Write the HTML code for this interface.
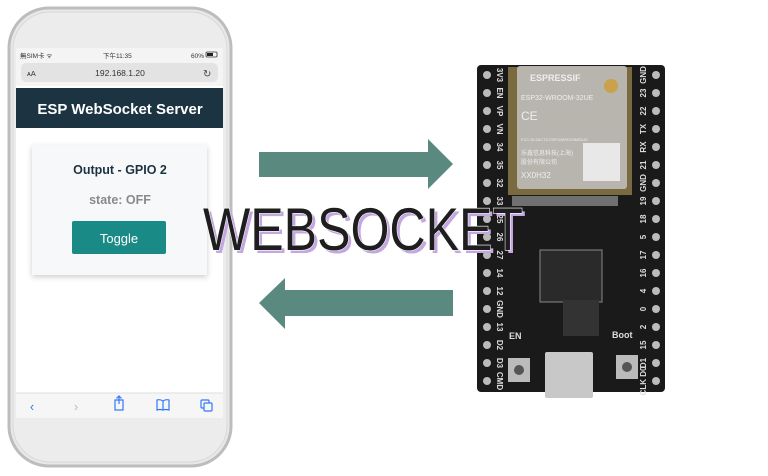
<!DOCTYPE html>
<html><head><meta charset="utf-8"><style>
html,body{margin:0;padding:0;background:#fff;width:768px;height:476px;overflow:hidden}
svg{display:block}
</style></head><body>
<svg width="768" height="476" viewBox="0 0 768 476" xmlns="http://www.w3.org/2000/svg" font-family="Liberation Sans, Noto Sans CJK SC, sans-serif">
<defs>
<filter id="sh" x="-20%" y="-20%" width="140%" height="140%"><feDropShadow dx="0" dy="2" stdDeviation="3" flood-color="#000" flood-opacity="0.2"/></filter>
</defs>
<!-- phone -->
<rect x="9" y="8" width="222" height="458" rx="40" fill="#e8e8e8" stroke="#bdbdbd" stroke-width="3"/>
<rect x="13" y="12" width="214" height="450" rx="37" fill="#ececec" stroke="#d8d8d8" stroke-width="1"/>
<rect x="16" y="48" width="207" height="370" fill="#fff"/>
<rect x="16" y="48" width="207" height="14" fill="#f4f4f4"/>
<text x="20" y="58" font-size="6.5" fill="#333">無SIM卡 ᯤ</text>
<text x="103" y="58" font-size="6.5" fill="#333">下午11:35</text>
<text x="191" y="58" font-size="6.5" fill="#333">60%</text>
<rect x="206" y="52" width="11" height="5" rx="1" fill="none" stroke="#333" stroke-width="0.8"/>
<rect x="207" y="53" width="6" height="3" fill="#222"/>
<rect x="16" y="62" width="207" height="24" fill="#f4f4f4"/>
<rect x="21" y="63" width="197" height="19" rx="5" fill="#e3e3e3"/>
<text x="27" y="76" font-size="7.5" fill="#333">ᴀA</text>
<text x="120" y="76" font-size="8.5" fill="#333" text-anchor="middle">192.168.1.20</text>
<text x="203" y="77" font-size="10" fill="#444">↻</text>
<rect x="16" y="88" width="207" height="40" fill="#1c3341"/>
<text x="120" y="114" font-size="15" font-weight="bold" fill="#fff" text-anchor="middle">ESP WebSocket Server</text>
<rect x="32" y="145" width="175" height="130" fill="#f7f8fa" filter="url(#sh)"/>
<text x="120" y="174" font-size="12.5" font-weight="bold" fill="#1c3341" text-anchor="middle">Output - GPIO 2</text>
<text x="120" y="204" font-size="12.5" font-weight="bold" fill="#8a8a8a" text-anchor="middle">state: OFF</text>
<rect x="72" y="221" width="94" height="33" rx="2" fill="#1a8a87"/>
<text x="119" y="243" font-size="13" fill="#fff" text-anchor="middle">Toggle</text>
<rect x="16" y="393" width="207" height="25" fill="#f6f6f6"/>
<line x1="16" y1="393" x2="223" y2="393" stroke="#ddd"/>
<text x="32" y="411" font-size="13" fill="#3478f6" text-anchor="middle">‹</text>
<text x="76" y="411" font-size="13" fill="#bbb" text-anchor="middle">›</text>
<rect x="115" y="400" width="8" height="10" fill="none" stroke="#3478f6" stroke-width="1.2"/>
<path d="M119 396 V404 M116.5 398.5 L119 396 L121.5 398.5" stroke="#3478f6" fill="none" stroke-width="1.2"/>
<path d="M157 400 Q160 399 163 401 Q166 399 169 400 V410 Q166 409 163 410 Q160 409 157 410 Z M163 401 V410" stroke="#3478f6" fill="none" stroke-width="1.2"/>
<rect x="201" y="400" width="8" height="8" rx="1" fill="none" stroke="#3478f6" stroke-width="1.2"/>
<rect x="204" y="403" width="8" height="8" rx="1" fill="#f6f6f6" stroke="#3478f6" stroke-width="1.2"/>
<!-- arrows -->
<path d="M259 152 H428 V139 L453 164 L428 189 V177 H259 Z" fill="#5a8a7f"/>
<path d="M453 290 H285 V278 L259 303 L285 329 V316 H453 Z" fill="#5a8a7f"/>
<!-- board -->
<rect x="477" y="65" width="188" height="327" rx="4" fill="#1a1a1a"/>
<g fill="#bbb">
<circle cx="487" cy="75" r="4"/><circle cx="487" cy="93" r="4"/><circle cx="487" cy="111" r="4"/><circle cx="487" cy="129" r="4"/><circle cx="487" cy="147" r="4"/><circle cx="487" cy="165" r="4"/><circle cx="487" cy="183" r="4"/><circle cx="487" cy="201" r="4"/><circle cx="487" cy="219" r="4"/><circle cx="487" cy="237" r="4"/><circle cx="487" cy="255" r="4"/><circle cx="487" cy="273" r="4"/><circle cx="487" cy="291" r="4"/><circle cx="487" cy="309" r="4"/><circle cx="487" cy="327" r="4"/><circle cx="487" cy="345" r="4"/><circle cx="487" cy="363" r="4"/><circle cx="487" cy="381" r="4"/>
<circle cx="656" cy="75" r="4"/><circle cx="656" cy="93" r="4"/><circle cx="656" cy="111" r="4"/><circle cx="656" cy="129" r="4"/><circle cx="656" cy="147" r="4"/><circle cx="656" cy="165" r="4"/><circle cx="656" cy="183" r="4"/><circle cx="656" cy="201" r="4"/><circle cx="656" cy="219" r="4"/><circle cx="656" cy="237" r="4"/><circle cx="656" cy="255" r="4"/><circle cx="656" cy="273" r="4"/><circle cx="656" cy="291" r="4"/><circle cx="656" cy="309" r="4"/><circle cx="656" cy="327" r="4"/><circle cx="656" cy="345" r="4"/><circle cx="656" cy="363" r="4"/><circle cx="656" cy="381" r="4"/>
</g>
<g font-size="8" fill="#ddd" font-weight="bold" text-anchor="middle">
<text transform="translate(497 75) rotate(90)">3V3</text>
<text transform="translate(497 93) rotate(90)">EN</text>
<text transform="translate(497 111) rotate(90)">VP</text>
<text transform="translate(497 129) rotate(90)">VN</text>
<text transform="translate(497 147) rotate(90)">34</text>
<text transform="translate(497 165) rotate(90)">35</text>
<text transform="translate(497 183) rotate(90)">32</text>
<text transform="translate(497 201) rotate(90)">33</text>
<text transform="translate(497 219) rotate(90)">25</text>
<text transform="translate(497 237) rotate(90)">26</text>
<text transform="translate(497 255) rotate(90)">27</text>
<text transform="translate(497 273) rotate(90)">14</text>
<text transform="translate(497 291) rotate(90)">12</text>
<text transform="translate(497 309) rotate(90)">GND</text>
<text transform="translate(497 327) rotate(90)">13</text>
<text transform="translate(497 345) rotate(90)">D2</text>
<text transform="translate(497 363) rotate(90)">D3</text>
<text transform="translate(497 381) rotate(90)">CMD</text>
<text transform="translate(646 75) rotate(-90)">GND</text>
<text transform="translate(646 93) rotate(-90)">23</text>
<text transform="translate(646 111) rotate(-90)">22</text>
<text transform="translate(646 129) rotate(-90)">TX</text>
<text transform="translate(646 147) rotate(-90)">RX</text>
<text transform="translate(646 165) rotate(-90)">21</text>
<text transform="translate(646 183) rotate(-90)">GND</text>
<text transform="translate(646 201) rotate(-90)">19</text>
<text transform="translate(646 219) rotate(-90)">18</text>
<text transform="translate(646 237) rotate(-90)">5</text>
<text transform="translate(646 255) rotate(-90)">17</text>
<text transform="translate(646 273) rotate(-90)">16</text>
<text transform="translate(646 291) rotate(-90)">4</text>
<text transform="translate(646 309) rotate(-90)">0</text>
<text transform="translate(646 327) rotate(-90)">2</text>
<text transform="translate(646 345) rotate(-90)">15</text>
<text transform="translate(646 363) rotate(-90)">D1</text>
<text transform="translate(646 381) rotate(-90)">CLK D0</text>
</g>
<rect x="508" y="67" width="124" height="128" fill="#7a6a40"/>
<rect x="517" y="66" width="110" height="123" rx="3" fill="#b8b5ae"/>
<text x="530" y="81" font-size="9" fill="#eee" font-weight="bold">ESPRESSIF</text>
<text x="521" y="100" font-size="7" fill="#eee">ESP32-WROOM-32UE</text>
<text x="521" y="120" font-size="12" fill="#eee">CE</text>
<text x="521" y="141" font-size="4" fill="#eee">FCC ID:2AC7Z-ESP32WROOM32UE</text>
<text x="521" y="155" font-size="6" fill="#eee">乐鑫信息科技(上海)</text>
<text x="521" y="164" font-size="6" fill="#eee">股份有限公司</text>
<text x="521" y="178" font-size="8" fill="#eee">XX0H32</text>
<rect x="583" y="143" width="37" height="38" fill="#e8e8e8"/>
<circle cx="611" cy="86" r="7" fill="#c9a24a"/>
<rect x="512" y="196" width="106" height="10" fill="#aaa" opacity="0.6"/>
<rect x="540" y="250" width="62" height="52" fill="#2a2a2a" stroke="#888"/>
<rect x="563" y="300" width="36" height="36" fill="#333"/>
<rect x="508" y="358" width="22" height="24" fill="#bbb"/><circle cx="519" cy="370" r="5" fill="#555"/>
<rect x="616" y="355" width="22" height="24" fill="#bbb"/><circle cx="627" cy="367" r="5" fill="#555"/>
<rect x="545" y="352" width="48" height="46" rx="2" fill="#c8c8c8"/>
<text x="509" y="339" font-size="9" fill="#ddd" font-weight="bold">EN</text>
<text x="612" y="338" font-size="9" fill="#ddd" font-weight="bold">Boot</text>
<!-- WEBSOCKET -->
<text x="206" y="253" font-size="60" textLength="320" lengthAdjust="spacingAndGlyphs" fill="#c4a6e0">WEBSOCKET</text>
<text x="203" y="250" font-size="60" textLength="320" lengthAdjust="spacingAndGlyphs" fill="#1e1e1e" stroke="#fff" stroke-width="1.2" paint-order="stroke">WEBSOCKET</text>
</svg>
</body></html>
